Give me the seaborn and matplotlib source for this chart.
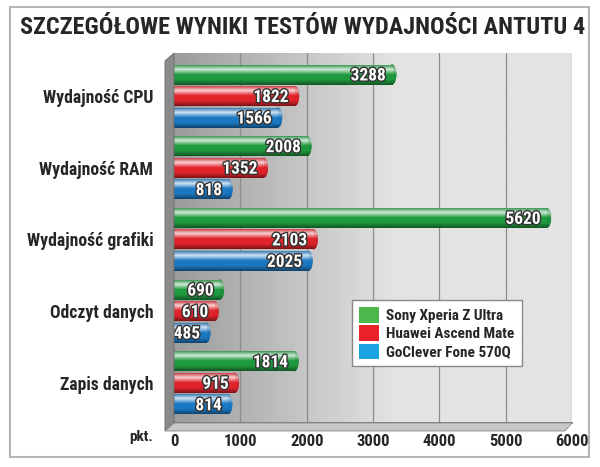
import numpy as np
import pandas as pd
import matplotlib
matplotlib.use("Agg")
import matplotlib.pyplot as plt
from matplotlib import patheffects as pe
from matplotlib import font_manager
from matplotlib.colors import LinearSegmentedColormap, to_rgb
from matplotlib.patches import Ellipse, Polygon, Rectangle
import seaborn as sns

# --- data ---
categories = ["Wydajność CPU", "Wydajność RAM", "Wydajność grafiki",
              "Odczyt danych", "Zapis danych"]
devices = ["Sony Xperia Z Ultra", "Huawei Ascend Mate", "GoClever Fone 570Q"]
sony = [3288, 2008, 5620, 690, 1814]
huawei = [1822, 1352, 2103, 610, 915]
goclever = [1566, 818, 2025, 485, 814]
x_ticks = [0, 1000, 2000, 3000, 4000, 5000, 6000]

bar_colors = ["#1f9a3f", "#e1242b", "#1b79c4"]
legend_colors = ["#4db84b", "#e8212b", "#1ba3e2"]

df = pd.DataFrame({
    "category": categories * 3,
    "device": [d for d in devices for _ in categories],
    "value": sony + huawei + goclever,
})

sns.set_theme(style="white")
fonts = font_manager.fontManager.ttflist
names = {f.name for f in fonts}
narrow = None
for cand in ["Liberation Sans Narrow", "Roboto Condensed", "Open Sans Condensed",
             "DejaVu Sans Condensed"]:
    if cand in names:
        narrow = cand
        break
if narrow is None:
    narrow = "DejaVu Sans"
    if any(f.name == "DejaVu Sans" and f.stretch == "condensed" for f in fonts):
        plt.rcParams["font.stretch"] = "condensed"
plt.rcParams["font.family"] = [narrow, "DejaVu Sans"]

W, H = 600, 467
fig = plt.figure(figsize=(6, 4.67), dpi=100)
fig.patch.set_facecolor("white")


def px(x, y):
    return (x / W, 1 - y / H)


ax_l, ax_r, ax_t, ax_b = 174, 572, 53, 423
ax = fig.add_axes([ax_l / W, 1 - ax_b / H, (ax_r - ax_l) / W, (ax_b - ax_t) / H])

sns.barplot(data=df, x="value", y="category", hue="device", palette=bar_colors,
            orient="h", width=0.9, gap=0.07, legend=False, ax=ax, saturation=1)

ax.set_xlim(0, 6000)
ax.set_ylim(4.56, -0.6)

# background gradient (dark on the left, lighter to the right)
grad = np.clip(np.linspace(0, 1, 256) / 0.55, 0, 1)[None, :]
bg_cmap = LinearSegmentedColormap.from_list("bg", ["#9c9c9c", "#e3e3e3"])
ax.imshow(grad, extent=(0, 6000, 4.56, -0.6), aspect="auto", cmap=bg_cmap,
          zorder=0, origin="upper")
for t in x_ticks[1:]:
    ax.axvline(t, color="#8c8c8c", lw=0.9, zorder=0.5)


def shade(c, f):
    r, g, b = to_rgb(c)
    if f >= 0:
        return (r + (1 - r) * f, g + (1 - g) * f, b + (1 - b) * f)
    return (r * (1 + f), g * (1 + f), b * (1 + f))


# cylinder look for each bar
for i, p in enumerate(ax.patches):
    col = bar_colors[i // len(categories)]
    cmap = LinearSegmentedColormap.from_list(
        "cyl", [shade(col, -0.15), shade(col, 0.8), col, col, shade(col, -0.45)])
    x0, y0 = p.get_x(), p.get_y()
    w, h = p.get_width(), p.get_height()
    g = np.linspace(0, 1, 64)[:, None]
    im = ax.imshow(g, extent=(x0, x0 + w, y0 + h, y0), aspect="auto", cmap=cmap,
                   origin="upper", zorder=2)
    im.set_clip_path(p)
    cap = Ellipse((x0 + w, y0 + h / 2), 130, h, facecolor=shade(col, -0.2),
                  edgecolor="none", zorder=1.9)
    ax.add_patch(cap)
    im2 = ax.imshow(g, extent=(x0 + w - 65, x0 + w + 65, y0 + h, y0), aspect="auto",
                    cmap=cmap, origin="upper", zorder=1.95, alpha=0.8)
    im2.set_clip_path(cap)
    p.set_edgecolor("none")
    ax.text(x0 + w - 90, y0 + h / 2 + 0.02, f"{int(w)}", ha="right", va="center",
            color="white", fontsize=12.5, fontweight="bold", zorder=3,
            path_effects=[pe.withStroke(linewidth=2, foreground="#333333")])

ax.set_xlim(0, 6000)
ax.set_ylim(4.56, -0.6)
ax.set_xticks(x_ticks)
ax.set_xticklabels([str(t) for t in x_ticks], fontsize=12, fontweight="bold")
ax.set_yticks(range(len(categories)))
ax.set_yticklabels(categories, fontsize=12.7, fontweight="bold")
ax.tick_params(axis="y", length=0, pad=15)
ax.tick_params(axis="x", length=0, pad=8)
ax.set_xlabel("")
ax.set_ylabel("")
for s in ["top", "right", "left"]:
    ax.spines[s].set_visible(False)
ax.spines["bottom"].set_color("#777777")

# 3D side wall and floor
fig.add_artist(Polygon([px(165, 61), px(174, 53), px(174, 423), px(165, 431)],
                       closed=True, transform=fig.transFigure,
                       facecolor="#8a8a8a", edgecolor="#666666", lw=0.6))
fig.add_artist(Polygon([px(165, 431), px(174, 423), px(572, 423), px(565, 431)],
                       closed=True, transform=fig.transFigure,
                       facecolor="#c8c8c8", edgecolor="#888888", lw=0.6))

# legend
handles = [Rectangle((0, 0), 1, 1, facecolor=c, edgecolor="none") for c in legend_colors]
leg = ax.legend(handles, devices, loc="upper left", bbox_to_anchor=(0.447, 0.332),
                frameon=True, fancybox=False, prop={"weight": "bold", "size": 11},
                handlelength=1.3, handleheight=1.2, handletextpad=0.5,
                labelspacing=0.15, borderpad=0.45, borderaxespad=0)
leg.get_frame().set_edgecolor("#888888")
leg.get_frame().set_facecolor("white")
leg.get_frame().set_alpha(1)
leg.set_zorder(5)

fig.text(*px(153, 437), "pkt.", ha="right", va="center", fontsize=11,
         fontweight="bold")
fig.text(*px(303, 28), "SZCZEGÓŁOWE WYNIKI TESTÓW WYDAJNOŚCI ANTUTU 4",
         ha="center", va="center", fontsize=17.5, fontweight="bold")

fig.add_artist(Rectangle(px(10, 457), 579 / W, 450 / H, transform=fig.transFigure,
                         facecolor="none", edgecolor="#b5b5b5", lw=1.5))

fig.savefig("out.png", dpi=100)
